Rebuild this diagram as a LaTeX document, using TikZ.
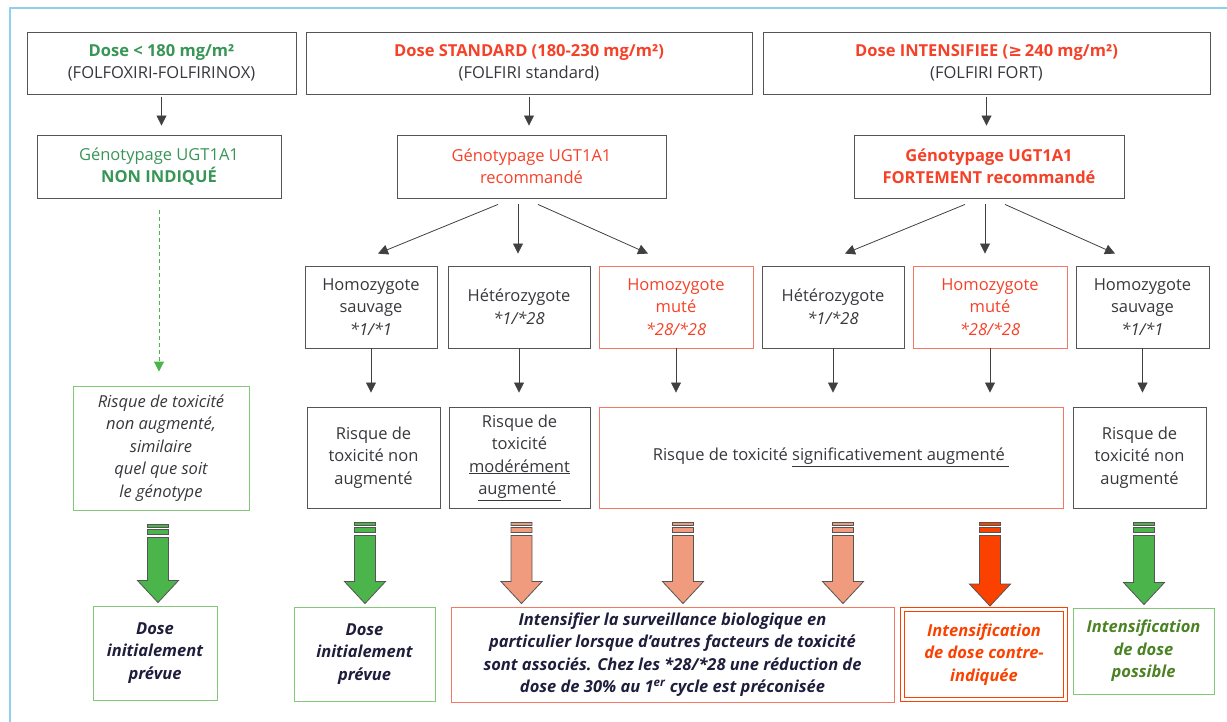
\documentclass[tikz,border=0pt]{standalone}
\usepackage{fontspec}
\setmainfont{Open Sans}
\newfontfamily\symfont{DejaVu Sans}
\usetikzlibrary{arrows.meta,calc}
\definecolor{framecol}{RGB}{140,210,240}
\definecolor{boxgray}{RGB}{85,85,85}
\definecolor{txtgray}{RGB}{55,55,60}
\definecolor{redtxt}{RGB}{245,65,40}
\definecolor{redline}{RGB}{245,120,100}
\definecolor{greentxt}{RGB}{55,150,85}
\definecolor{greenline}{RGB}{130,200,120}
\definecolor{arrgreen}{RGB}{75,180,75}
\definecolor{arrsalmon}{RGB}{240,155,125}
\definecolor{arrred}{RGB}{250,65,0}
\definecolor{olive}{RGB}{75,130,35}
\definecolor{navy}{RGB}{30,30,60}
\def\fs{\fontsize{16.5}{22.5}\selectfont}
\def\blockarrow[#1](#2)(#3)(#4){\path[draw=boxgray, line width=0.8pt, fill=#1] let \p1=(#3.south), \p2=(#4.north) in
	(#2-10.5, \y1-14pt) rectangle (#2+10.5, \y1-17pt)
	(#2-10.5, \y1-19pt) rectangle (#2+10.5, \y1-24pt)
	(#2-10.5, \y1-27pt) -- (#2-10.5, \y2+25pt) -- (#2-20.5, \y2+25pt) -- (#2, \y2+3pt)
	-- (#2+20.5, \y2+25pt) -- (#2+10.5, \y2+25pt) -- (#2+10.5, \y1-27pt) -- cycle;}

\begin{document}
\begin{tikzpicture}[x=1pt, y=-1pt,
	box/.style={draw=boxgray, line width=0.9pt, inner sep=0pt, align=center, font=\fs, text=txtgray},
	redbox/.style={box, draw=redline},
	greenbox/.style={box, draw=greenline},
	verdict/.style={font=\fs\bfseries\itshape, text=navy},
	arr/.style={-{Triangle[length=10pt, width=10pt]}, draw=black!75, line width=0.8pt},
	dasharr/.style={-{Triangle[length=10pt, width=10pt]}, draw=arrgreen, color=arrgreen, line width=0.9pt, dash pattern=on 4pt off 3pt}]
	%%%%% START %%%%%
	
	\useasboundingbox (0, 0) rectangle (1227, 722);
	\draw[line width=1.5pt, color=framecol] (10, 722) -- (10, 8) -- (1227, 8);
	
	% doses
	\node[box, minimum width=269, minimum height=62] (dlow) at (161.5, 63) {{\bfseries\color{greentxt}Dose < 180 mg/m²}\\(FOLFOXIRI-FOLFIRINOX)};
	\node[box, minimum width=446, minimum height=62] (dstd) at (529, 63) {{\bfseries\color{redtxt}Dose STANDARD (180-230 mg/m²)}\\(FOLFIRI standard)};
	\node[box, minimum width=447, minimum height=62] (dint) at (986.5, 63) {{\bfseries\color{redtxt}Dose INTENSIFIEE ({\symfont ≥}\,240 mg/m²)}\\(FOLFIRI FORT)};
	
	% genotypage
	\node[box, minimum width=244, minimum height=63, text=greentxt] (glow) at (159, 166.5) {Génotypage UGT1A1\\\textbf{NON INDIQUÉ}};
	\node[box, minimum width=269, minimum height=63, text=redtxt] (gstd) at (531.5, 166.5) {Génotypage UGT1A1\\recommandé};
	\node[box, minimum width=270, minimum height=63, text=redtxt, font=\fs\bfseries] (gint) at (989, 166.5) {Génotypage UGT1A1\\FORTEMENT recommandé};
	
	\draw[arr, shorten <=3pt, shorten >=9pt] (dlow.south) -- (dlow.south |- glow.north);
	\draw[arr, shorten <=3pt, shorten >=9pt] (dstd.south) -- (dstd.south |- gstd.north);
	\draw[arr, shorten <=3pt, shorten >=9pt] (dint.south) -- (dint.south |- gint.north);
	
	% genotypes
	\node[box, minimum width=132, minimum height=82] (hs1) at (371, 307) {Homozygote\\sauvage\\\textit{*1/*1}};
	\node[box, minimum width=142, minimum height=82] (he1) at (519, 307) {Hétérozygote\\\textit{*1/*28}};
	\node[redbox, minimum width=154, minimum height=82, text=redtxt] (hm1) at (676, 307) {Homozygote\\muté\\\textit{*28/*28}};
	\node[box, minimum width=142, minimum height=82] (he2) at (833, 307) {Hétérozygote\\\textit{*1/*28}};
	\node[redbox, minimum width=154, minimum height=82, text=redtxt] (hm2) at (990, 307) {Homozygote\\muté\\\textit{*28/*28}};
	\node[box, minimum width=133, minimum height=82] (hs2) at (1142.5, 307) {Homozygote\\sauvage\\\textit{*1/*1}};
	
	\draw[arr] ([shift={(-33.5pt,-6pt)}]gstd.south) -- ([shift={(7pt,12pt)}]hs1.north);
	\draw[arr] ([shift={(-13.5pt,-6pt)}]gstd.south) -- ([shift={(-1pt,12pt)}]he1.north);
	\draw[arr] ([shift={(6.5pt,-6pt)}]gstd.south) -- ([shift={(-28pt,12pt)}]hm1.north);
	\draw[arr] ([shift={(-24pt,-6pt)}]gint.south) -- ([shift={(12pt,12pt)}]he2.north);
	\draw[arr] ([shift={(-4pt,-6pt)}]gint.south) -- ([shift={(-5pt,12pt)}]hm2.north);
	\draw[arr] ([shift={(16pt,-6pt)}]gint.south) -- ([shift={(-27.5pt,12pt)}]hs2.north);
	
	% risques
	\node[greenbox, minimum width=176, minimum height=124, font=\fs\itshape] (rnon) at (161, 448) {Risque de toxicité\\non augmenté,\\similaire\\quel que soit\\le génotype};
	\node[box, minimum width=133, minimum height=101] (rs1) at (373.5, 457.5) {Risque de\\toxicité non\\augmenté};
	\node[box, minimum width=141, minimum height=101] (rm1) at (519.5, 457.5) {Risque de\\toxicité\\\underline{modérément}\\\underline{augmenté\ }};
	\node[redbox, minimum width=464, minimum height=101] (rsig) at (831, 457.5) {Risque de toxicité \underline{significativement augmenté\ }};
	\node[box, minimum width=133, minimum height=101] (rs2) at (1139.5, 457.5) {Risque de\\toxicité non\\augmenté};
	
	\draw[dasharr, shorten <=12pt, shorten >=14pt] (glow.south) -- (glow.south |- rnon.north);
	\draw[arr, shorten >=14pt] (hs1.south) -- (hs1.south |- rs1.north);
	\draw[arr, shorten >=14pt] (he1.south) -- (he1.south |- rm1.north);
	\draw[arr, shorten >=14pt] (hm1.south) -- (hm1.south |- rsig.north);
	\draw[arr, shorten >=14pt] (he2.south) -- (he2.south |- rsig.north);
	\draw[arr, shorten >=14pt] (hm2.south) -- (hm2.south |- rsig.north);
	\draw[arr, shorten >=14pt] (hs2.south) -- (hs2.south |- rs2.north);
	
	% conduites
	\node[greenbox, verdict, minimum width=124, minimum height=94] (dose1) at (155, 653) {Dose\\initialement\\prévue};
	\node[greenbox, verdict, minimum width=141, minimum height=94] (dose2) at (364.5, 654) {Dose\\initialement\\prévue};
	\node[redbox, verdict, minimum width=443, minimum height=95] (surv) at (672.5, 654.5) {Intensifier la surveillance biologique en\\particulier lorsque d’autres facteurs de toxicité\\sont associés. Chez les *28/*28 une réduction de\\dose de 30\% au 1\textsuperscript{er} cycle est préconisée};
	\node[box, verdict, draw=arrred, text=arrred, double=white, double distance=2.5pt, line width=0.9pt, minimum width=163, minimum height=90] (contra) at (984, 654.5) {Intensification\\de dose contre-\\indiquée};
	\node[greenbox, verdict, text=olive, minimum width=141, minimum height=86] (poss) at (1143.5, 651) {Intensification\\de dose\\possible};
	
	\blockarrow[arrgreen](158)(rnon)(dose1)
	\blockarrow[arrgreen](365)(rs1)(dose2)
	\blockarrow[arrsalmon](521.5)(rm1)(surv)
	\blockarrow[arrsalmon](683)(rsig)(surv)
	\blockarrow[arrsalmon](843)(rsig)(surv)
	\blockarrow[arrred](990)(rsig)(contra)
	\blockarrow[arrgreen](1144)(rs2)(poss)
	
	%%%%% END %%%%%
\end{tikzpicture}
\end{document}
